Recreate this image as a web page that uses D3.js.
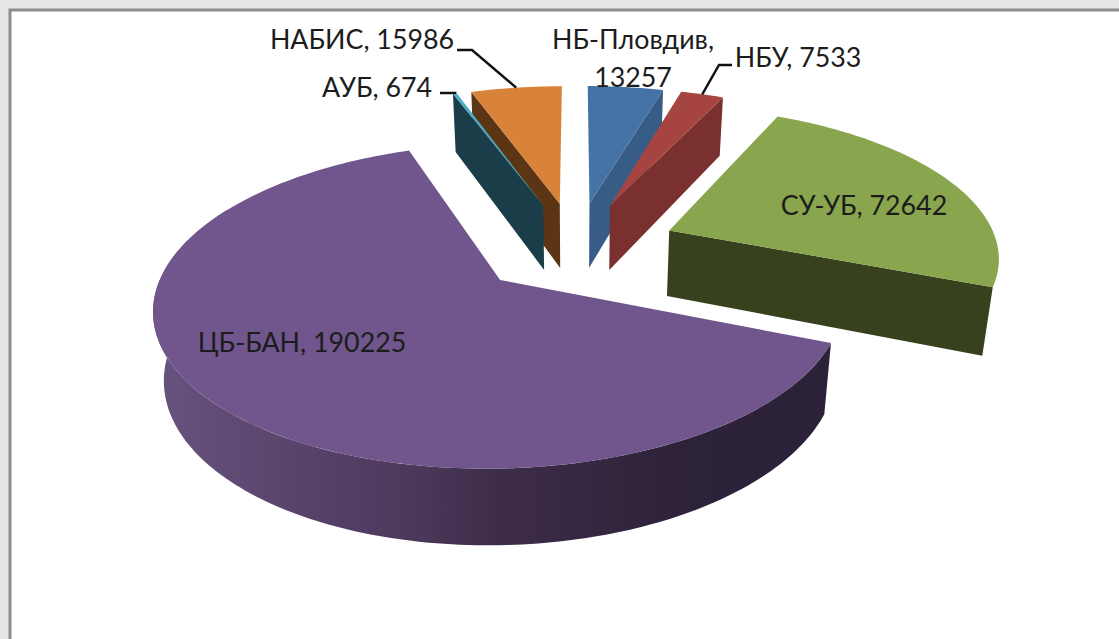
<!DOCTYPE html>
<html><head><meta charset="utf-8">
<script src="https://d3js.org/d3.v7.min.js"></script>
<style>html,body{margin:0;padding:0;background:#e6e6e8;overflow:hidden}svg{display:block}text{font-family:Lato,"Noto Sans",sans-serif;fill:#1c1c1c}</style>
</head><body><script>
const categories=["НБ-Пловдив","НБУ","СУ-УБ","ЦБ-БАН","АУБ","НАБИС"];
const values=[13257,7533,72642,190225,674,15986];
const topColors=["#4573A7","#A54441","#89A54E","#70568C","#4AACC5","#D9833A"];
const wallColors=["#375C85","#7B3030","#37411D","url(#wallGrad)","#1B3D49","#5C3515"];
const drawOrder=[0,1,2,5,4,3];
const labelLines=[["НБ-Пловдив,","13257"],["НБУ, 7533"],["СУ-УБ, 72642"],["ЦБ-БАН, 190225"],["АУБ, 674"],["НАБИС, 15986"]];
const W=1119,H=639,cx=576,cy=247,S=329,sinA=0.45,cosA=Math.sqrt(1-sinA*sinA),D=cosA/0.155,thick=0.23,explode=0.31,f=S*D,taper=0.03;
const labelPos=[[633,49,38],[798,67],[864,215],[302,352],[377,97],[362,49]];
const svg=d3.select("body").append("svg").attr("width",W).attr("height",H);
svg.append("rect").attr("x",10).attr("y",10).attr("width",W+20).attr("height",H+20).attr("fill","#fff").attr("stroke","#8c8c8c").attr("stroke-width",3);
const g=svg.append("linearGradient").attr("id","wallGrad").attr("gradientUnits","userSpaceOnUse").attr("x1",155).attr("x2",825).attr("y1",0).attr("y2",0);
[[0,"#68527F"],[0.4,"#4A3759"],[0.52,"#3D2C48"],[0.8,"#2C2239"],[1,"#2B2138"]].forEach(s=>g.append("stop").attr("offset",s[0]).attr("stop-color",s[1]));
const project=(X,Y,Z)=>{const yc=Y*sinA+Z*cosA,d=D+Y*cosA-Z*sinA;return [cx+f*X/d*(1+taper*Z),cy-f*yc/d];};
const arcs=d3.pie().sort(null).value(d=>d)(values);
const line=d3.line();
const N=a=>Math.max(2,Math.ceil((a.endAngle-a.startAngle)/0.02));
function rim(a,t0,t1,z,ex,ey){return d3.range(N({startAngle:t0,endAngle:t1})+1).map(i=>{const t=t0+(t1-t0)*i/N({startAngle:t0,endAngle:t1});return project(ex+Math.sin(t),ey+Math.cos(t),z);});}
const chart=svg.append("g");
drawOrder.forEach(i=>{
 const a=arcs[i],mid=(a.startAngle+a.endAngle)/2,ex=explode*Math.sin(mid),ey=explode*Math.cos(mid);
 const wall=wallColors[i],P=(x,y,z)=>project(ex+x,ey+y,z);
 const radial=t=>[P(0,0,0),P(Math.sin(t),Math.cos(t),0),P(Math.sin(t),Math.cos(t),-thick),P(0,0,-thick)];
 if(a.endAngle<Math.PI)chart.append("path").attr("d",line(radial(a.endAngle))+"Z").attr("fill",wall);
 if(a.startAngle>Math.PI)chart.append("path").attr("d",line(radial(a.startAngle))+"Z").attr("fill",wall);
 if(a.startAngle<Math.PI&&a.endAngle>Math.PI){
  const t0=a.startAngle,t1=Math.min(a.endAngle,3*Math.PI/2+0.5);
  const top=rim(a,t0,t1,0,ex,ey),bot=rim(a,t0,t1,-thick,ex,ey).reverse();
  chart.append("path").attr("d",line(top.concat(bot))+"Z").attr("fill",wall);}
 const face=[P(0,0,0)].concat(rim(a,a.startAngle,a.endAngle,0,ex,ey));
 chart.append("path").attr("d",line(face)+"Z").attr("fill",topColors[i]);
});
[[5,[[457,50],[472,50]]],[4,[[440,93],[455,93]]],[1,[[732,65],[719,65]]]].forEach(([i,pts])=>{
 const a=arcs[i],mid=(a.startAngle+a.endAngle)/2,ex=explode*Math.sin(mid),ey=explode*Math.cos(mid);
 const end=project(ex+Math.sin(mid),ey+Math.cos(mid),0);
 svg.append("path").attr("d",line(pts.concat([end]))).attr("fill","none").attr("stroke","#111").attr("stroke-width",2.4);
});
labelLines.forEach((ls,i)=>{
 const p=labelPos[i];
 ls.forEach((s,j)=>svg.append("text").attr("x",p[0]).attr("y",p[1]+j*(p[2]||0)).attr("text-anchor","middle").attr("font-size",26.8).text(s));
});
</script></body></html>
